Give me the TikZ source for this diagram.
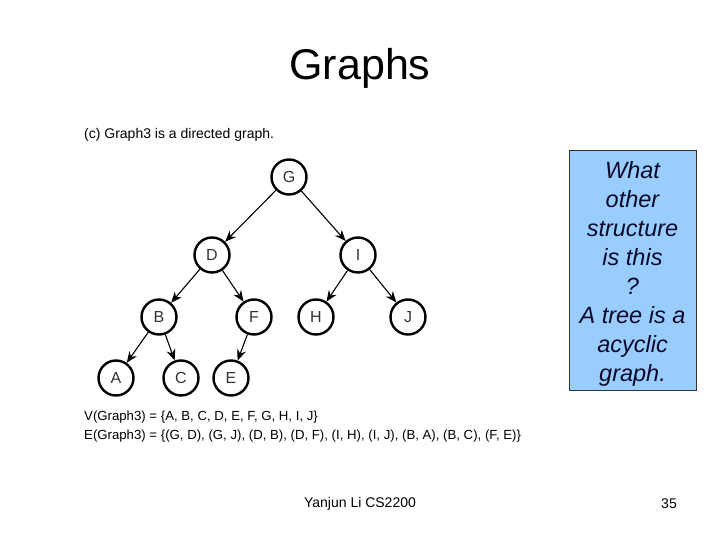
\documentclass[tikz,border=0pt]{standalone}
\usepackage{fontspec}
\setmainfont{Liberation Sans}
\usetikzlibrary{arrows.meta}
\definecolor{boxblue}{RGB}{153,204,255}
\definecolor{boxtext}{RGB}{10,10,40}
\tikzset{
  vtx/.style={circle, draw=black, line width=2.4pt, minimum size=35pt, inner sep=0pt, font=\fontsize{16}{18}\selectfont, text=black!80},
  edge/.style={line width=1.1pt, -{Stealth[length=11pt,width=9pt]}},
  lbl/.style={anchor=west, inner sep=0pt, font=\fontsize{14}{16}\selectfont},
  setlbl/.style={anchor=west, inner sep=0pt, font=\fontsize{13.2}{16}\selectfont},
}
\begin{document}
\begin{tikzpicture}[x=1pt,y=-1pt]
\useasboundingbox (0,0) rectangle (720,540);
\node[inner sep=0pt, font=\fontsize{43}{46}\selectfont] (title) at (360,68) {Graphs};
\node[lbl] (cap) at (84,135) {(c) Graph3 is a directed graph.};
\node[vtx] (G) at (289,177) {G};
\node[vtx] (D) at (212,255) {D};
\node[vtx] (I) at (358,255) {I};
\node[vtx] (B) at (159,317) {B};
\node[vtx] (F) at (254,317) {F};
\node[vtx] (H) at (316,317) {H};
\node[vtx] (J) at (408,317) {J};
\node[vtx] (A) at (116,378) {A};
\node[vtx] (C) at (181,378) {C};
\node[vtx] (E) at (231,378) {E};
\draw[edge] (G) -- (D);
\draw[edge] (G) -- (I);
\draw[edge] (D) -- (B);
\draw[edge] (D) -- (F);
\draw[edge] (I) -- (H);
\draw[edge] (I) -- (J);
\draw[edge] (B) -- (A);
\draw[edge] (B) -- (C);
\draw[edge] (F) -- (E);
\node[setlbl] (vset) at (84,417) {V(Graph3) = \{A, B, C, D, E, F, G, H, I, J\}};
\node[setlbl] (eset) at (84,436) {E(Graph3) = \{(G, D), (G, J), (D, B), (D, F), (I, H), (I, J), (B, A), (B, C), (F, E)\}};
\node[draw=black!80, fill=boxblue, line width=0.8pt, minimum width=127pt, minimum height=240pt, inner sep=0pt] (box) at (632.5,270) {};
\node[align=center, text=boxtext, font=\fontsize{23.5}{29}\selectfont\itshape, inner sep=0pt] (q) at ([yshift=-4pt]box.center) {What\\other\\structure\\is this\\?\\A tree is a\\acyclic\\graph.};
\node[inner sep=0pt, font=\fontsize{14}{16}\selectfont] (foot) at (360,504) {Yanjun Li CS2200};
\node[inner sep=0pt, font=\fontsize{14}{16}\selectfont] (num) at (669,504) {35};
\end{tikzpicture}
\end{document}
